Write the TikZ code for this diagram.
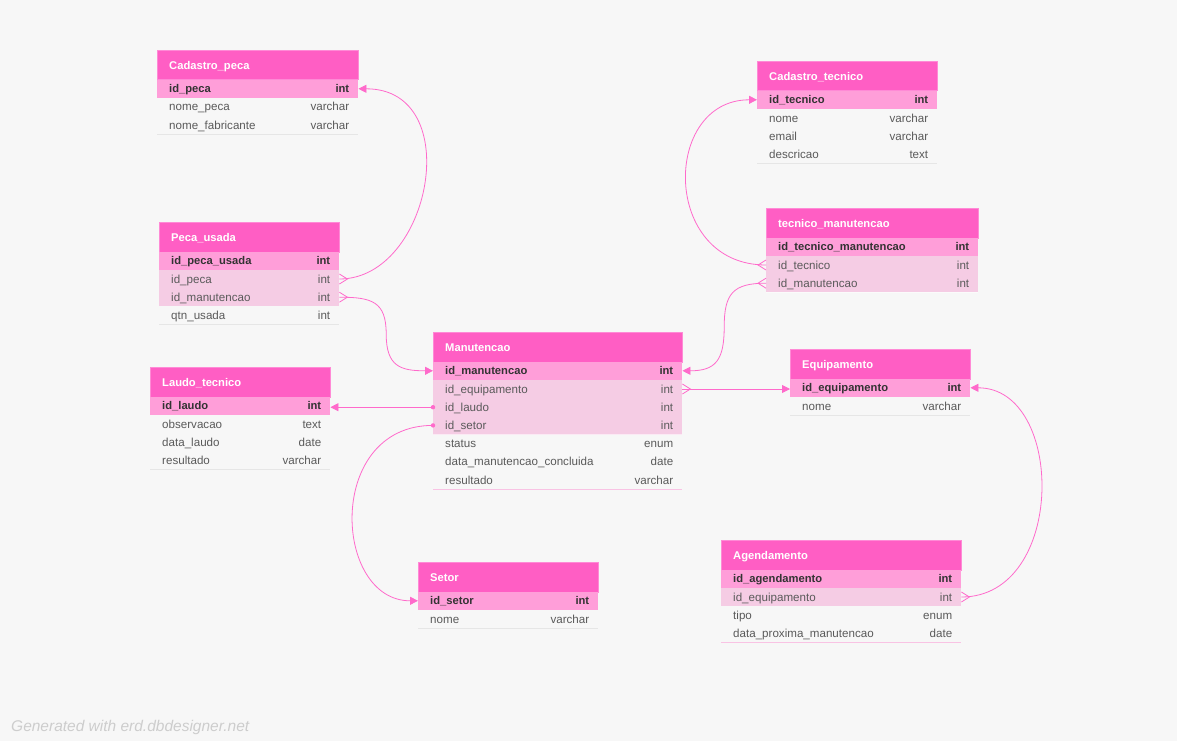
\documentclass[tikz,border=0pt]{standalone}
\usepackage{fontspec}
\setmainfont{Liberation Sans}
\usetikzlibrary{arrows.meta,calc}
\definecolor{bgc}{HTML}{F7F7F7}
\definecolor{hdc}{HTML}{FF5EC4}
\definecolor{hdb}{HTML}{FF8AD6}
\definecolor{pkc}{HTML}{FF9ED9}
\definecolor{fkc}{HTML}{F5CCE4}
\definecolor{relc}{HTML}{FF6ACB}
\definecolor{sepc}{HTML}{E6E6E6}
\definecolor{lastc}{HTML}{F9C3E4}
\definecolor{txc}{HTML}{5A5A5A}
\definecolor{pktx}{HTML}{333333}
\definecolor{wmc}{HTML}{CDCDCD}
\tikzset{
  head/.style={rectangle, fill=hdc, draw=hdb, line width=0.6pt, minimum height=29.5pt, inner sep=0pt},
  headtxt/.style={font=\fontsize{11.2}{13}\selectfont\bfseries, text=white, inner sep=0pt, text height=8pt, text depth=0pt, anchor=west},
  pk/.style={rectangle, fill=pkc, minimum height=18.2pt, inner sep=0pt},
  fk/.style={rectangle, fill=fkc, minimum height=18.2pt, inner sep=0pt},
  pl/.style={rectangle, fill=bgc, minimum height=18.2pt, inner sep=0pt},
  pktxt/.style={font=\fontsize{11.2}{13}\selectfont\bfseries, text=pktx, inner sep=0pt, text height=8pt, text depth=0pt},
  fktxt/.style={font=\fontsize{11.6}{13}\selectfont, text=txc, inner sep=0pt, text height=8pt, text depth=0pt},
  pltxt/.style={font=\fontsize{11.6}{13}\selectfont, text=txc, inner sep=0pt, text height=8pt, text depth=0pt},
  pksep/.style={draw=white, line width=0.6pt, opacity=0.5},
  fksep/.style={draw=white, line width=0.6pt, opacity=0.6},
  plsep/.style={draw=sepc, line width=0.8pt},
  lastsep/.style={draw=lastc, line width=1pt},
  rel/.style={draw=relc, line width=0.8pt},
  tip/.style={-{Triangle[length=8pt,width=8pt]}},
}
\newcommand{\erdhead}[5]{%
  \def\erdx{#2}\def\erdy{#3}\def\erdw{#4pt}%
  \node[head, minimum width=#4pt, anchor=north west] (#1) at (#2,#3) {};
  \node[headtxt] (#1-t) at ([xshift=12pt]#1.west) {#5};}
\newcommand{\erdrow}[5]{%
  \node[#3, minimum width=\erdw, anchor=north west] (#1) at (\erdx,{\erdy+29.5+18.2*(#2-1)}) {};
  \node[#3txt, anchor=west] (#1-n) at ([xshift=12pt]#1.west) {#4};
  \node[#3txt, anchor=east] (#1-y) at ([xshift=-9pt]#1.east) {#5};
  \draw[#3sep] (#1.south west) -- (#1.south east);}
\newcommand{\crowR}[1]{\draw[rel] ([yshift=5pt]#1.east) -- ([xshift=8pt]#1.east) -- ([yshift=-5pt]#1.east);}
\newcommand{\crowL}[1]{\draw[rel] ([yshift=5pt]#1.west) -- ([xshift=-8pt]#1.west) -- ([yshift=-5pt]#1.west);}
\begin{document}
\begin{tikzpicture}[x=1pt,y=-1pt]
\fill[bgc] (0,0) rectangle (1177,741);
\useasboundingbox (0,0) rectangle (1177,741);

% Cadastro_peca
\erdhead{cp}{157}{50}{201}{Cadastro\_peca}
\erdrow{cp-1}{1}{pk}{id\_peca}{int}
\erdrow{cp-2}{2}{pl}{nome\_peca}{varchar}
\erdrow{cp-3}{3}{pl}{nome\_fabricante}{varchar}

% Peca_usada
\erdhead{pu}{159}{222}{180}{Peca\_usada}
\erdrow{pu-1}{1}{pk}{id\_peca\_usada}{int}
\erdrow{pu-2}{2}{fk}{id\_peca}{int}
\erdrow{pu-3}{3}{fk}{id\_manutencao}{int}
\erdrow{pu-4}{4}{pl}{qtn\_usada}{int}

% Manutencao
\erdhead{mt}{433}{332}{249}{Manutencao}
\erdrow{mt-1}{1}{pk}{id\_manutencao}{int}
\erdrow{mt-2}{2}{fk}{id\_equipamento}{int}
\erdrow{mt-3}{3}{fk}{id\_laudo}{int}
\erdrow{mt-4}{4}{fk}{id\_setor}{int}
\erdrow{mt-5}{5}{pl}{status}{enum}
\erdrow{mt-6}{6}{pl}{data\_manutencao\_concluida}{date}
\erdrow{mt-7}{7}{pl}{resultado}{varchar}
\draw[lastsep] (mt-7.south west) -- (mt-7.south east);

% Laudo_tecnico
\erdhead{lt}{150}{367}{180}{Laudo\_tecnico}
\erdrow{lt-1}{1}{pk}{id\_laudo}{int}
\erdrow{lt-2}{2}{pl}{observacao}{text}
\erdrow{lt-3}{3}{pl}{data\_laudo}{date}
\erdrow{lt-4}{4}{pl}{resultado}{varchar}

% Setor
\erdhead{st}{418}{562}{180}{Setor}
\erdrow{st-1}{1}{pk}{id\_setor}{int}
\erdrow{st-2}{2}{pl}{nome}{varchar}

% Cadastro_tecnico
\erdhead{ct}{757}{61}{180}{Cadastro\_tecnico}
\erdrow{ct-1}{1}{pk}{id\_tecnico}{int}
\erdrow{ct-2}{2}{pl}{nome}{varchar}
\erdrow{ct-3}{3}{pl}{email}{varchar}
\erdrow{ct-4}{4}{pl}{descricao}{text}

% tecnico_manutencao
\erdhead{tm}{766}{208}{212}{tecnico\_manutencao}
\erdrow{tm-1}{1}{pk}{id\_tecnico\_manutencao}{int}
\erdrow{tm-2}{2}{fk}{id\_tecnico}{int}
\erdrow{tm-3}{3}{fk}{id\_manutencao}{int}

% Equipamento
\erdhead{eq}{790}{349}{180}{Equipamento}
\erdrow{eq-1}{1}{pk}{id\_equipamento}{int}
\erdrow{eq-2}{2}{pl}{nome}{varchar}

% Agendamento
\erdhead{ag}{721}{540}{240}{Agendamento}
\erdrow{ag-1}{1}{pk}{id\_agendamento}{int}
\erdrow{ag-2}{2}{fk}{id\_equipamento}{int}
\erdrow{ag-3}{3}{pl}{tipo}{enum}
\erdrow{ag-4}{4}{pl}{data\_proxima\_manutencao}{date}
\draw[lastsep] (ag-4.south west) -- (ag-4.south east);

% relationships
\draw[rel,tip] (pu-2.east) .. controls ($(pu-2.east)+(92,0)$) and ($(cp-1.east)+(108,0)$) .. (cp-1.east);
\crowR{pu-2}
\draw[rel,tip] (pu-3.east) to[out=0,in=90,looseness=1.4] ($(pu-3.east)!0.5!(mt-1.west)$) to[out=-90,in=180,looseness=1.4] (mt-1.west);
\crowR{pu-3}
\draw[rel,tip] (mt-3.west) -- (mt-3.west -| lt-1.east);
\fill[relc] (mt-3.west) circle (2.2pt);
\draw[rel,tip] (mt-4.west) .. controls ($(mt-4.west)+(-108,0)$) and ($(st-1.west)+(-85,0)$) .. (st-1.west);
\fill[relc] (mt-4.west) circle (2.2pt);
\draw[rel,tip] (mt-2.east) -- (mt-2.east -| eq-1.west);
\crowR{mt-2}
\draw[rel,tip] (tm-3.west) to[out=180,in=90,looseness=1.4] ($(tm-3.west)!0.5!(mt-1.east)$) to[out=-90,in=0,looseness=1.4] (mt-1.east);
\crowL{tm-3}
\draw[rel,tip] (tm-2.west) .. controls ($(tm-2.west)+(-105,0)$) and ($(ct-1.west)+(-95,0)$) .. (ct-1.west);
\crowL{tm-2}
\draw[rel,tip] (ag-2.east) .. controls ($(ag-2.east)+(105,0)$) and ($(eq-1.east)+(95,0)$) .. (eq-1.east);
\crowR{ag-2}

\node[font=\itshape\fontsize{15.5}{18}\selectfont, text=wmc, anchor=base west, inner sep=0pt] (wm) at (11,731) {Generated with erd.dbdesigner.net};
\end{tikzpicture}
\end{document}
